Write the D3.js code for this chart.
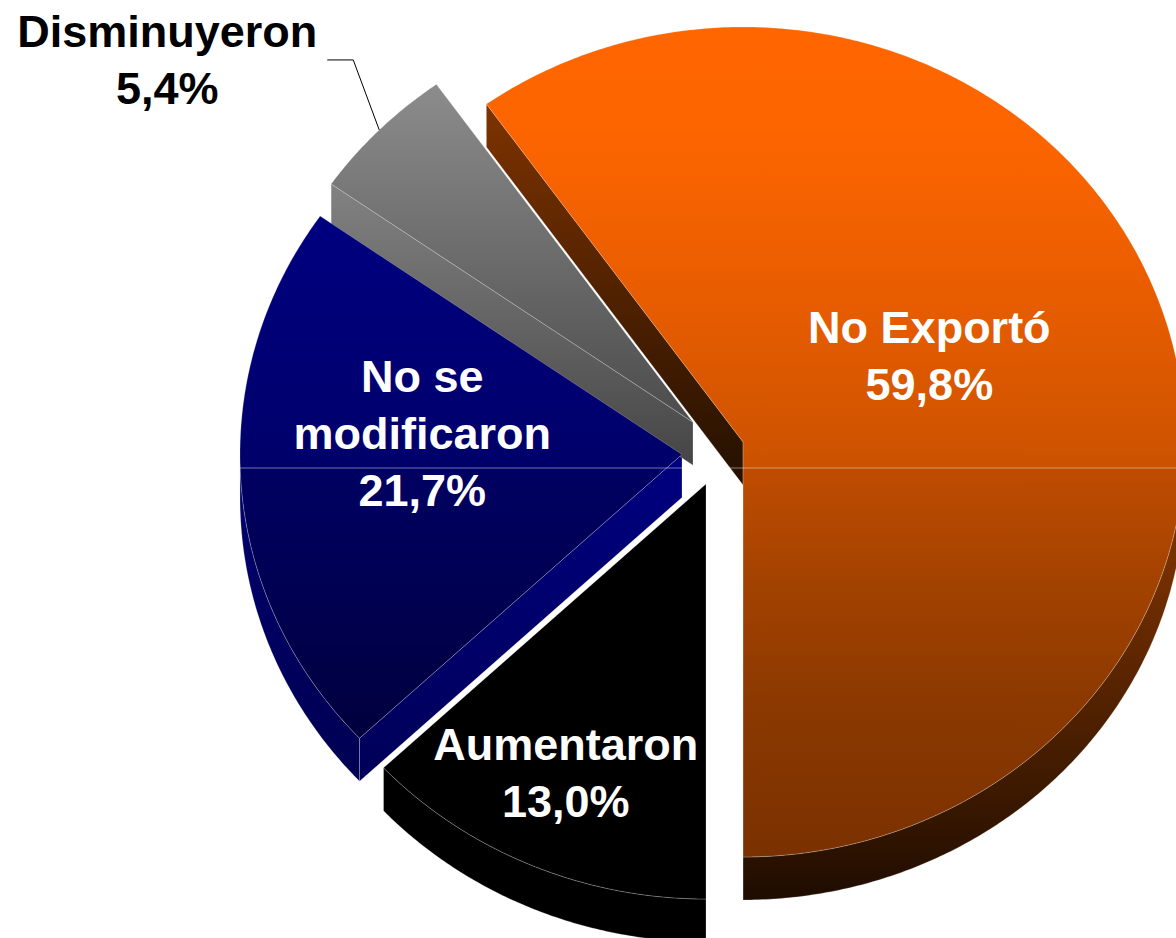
<!DOCTYPE html>
<html>
<head>
<meta charset="utf-8">
<script src="https://cdn.jsdelivr.net/npm/d3@7"></script>
<style>
  html, body { margin: 0; padding: 0; background: #ffffff; overflow: hidden; }
  svg { display: block; }
</style>
</head>
<body>
<svg id="chart" width="1176" height="938"></svg>
<script>
// ---------------- DATA ----------------
const categories = ["No Exportó", "Aumentaron", "No se modificaron", "Disminuyeron"];
const values = [59.8, 13.0, 21.7, 5.4];
const labelLines = [["No Exportó"], ["Aumentaron"], ["No se", "modificaron"], ["Disminuyeron"]];

// ---------------- STYLE / LAYOUT ----------------
const W = 1176, H = 938;
const cx = 718, cy = 451.4;          // pie centre before explosion
const rx = 442, ry = 415;            // projected ellipse radii
const depth = 43;                    // 3D thickness
const explodeYScale = 1.176;
const explode = [26.3, 30.2, 36.1, 35.2];      // per-slice explosion
const labelRadius = [0.47, 0.764, 0.59, null];
const labelShiftDeg = [-8.5, 1.1, 9.0, 0];
const insideLabel = [true, true, true, false];
const labelColor = ["#ffffff", "#ffffff", "#ffffff", "#000000"];
const fontSize = 45, lineH = 57;
const seamY = 468;

const faceStops = [
  [[0, "#FF6600"], [0.148, "#FB6400"], [0.34, "#E65C00"], [0.529, "#CC5200"], [0.532, "#C04C00"], [0.641, "#A84400"], [0.81, "#8C3900"], [1, "#7A3100"]],
  [[0, "#000000"], [1, "#000000"]],
  [[0, "#000080"], [0.485, "#00006A"], [0.488, "#000062"], [1, "#00003E"]],
  [[0, "#8C8C8C"], [1, "#4C4C4C"]]
];
const radialWallStops = [
  [[0, "#7E3300"], [1, "#231000"]],
  [[0, "#000000"], [1, "#000000"]],
  [[0, "#000080"], [1, "#000058"]],
  [[0, "#828282"], [1, "#454545"]]
];
const outerWallStops = [
  [[0, "#803300"], [0.26, "#773000"], [0.78, "#3A1800"], [1, "#1E0C00"]],
  [[0, "#000000"], [1, "#000000"]],
  [[0, "#000070"], [1, "#000052"]],
  [[0, "#777777"], [1, "#444444"]]
];
const edgeStroke = "rgba(255,255,255,0.28)";

// ---------------- BUILD ----------------
const fmt = d3.formatLocale({decimal: ",", thousands: ".", grouping: [3], currency: ["", ""]}).format(".1f");

const svg = d3.select("#chart");
const defs = svg.append("defs");

function makeGrad(id, stops) {
  const g = defs.append("linearGradient").attr("id", id)
    .attr("x1", 0).attr("y1", 0).attr("x2", 0).attr("y2", 1);
  stops.forEach(s => g.append("stop").attr("offset", s[0]).attr("stop-color", s[1]));
  return "url(#" + id + ")";
}

const sum = d3.sum(values);
const a0 = Math.PI - 2 * Math.PI * values[0] / sum;
const pie = d3.pie().sort(null).value(d => d).startAngle(a0).endAngle(a0 + 2 * Math.PI);
const arcs = pie(values);

function pt(apex, a, r = 1, dz = 0) {
  return [apex[0] + rx * r * Math.sin(a), apex[1] - ry * r * Math.cos(a) + dz];
}
function arcPts(apex, s, e, dz = 0) {
  const n = Math.max(2, Math.ceil(Math.abs(e - s) / (Math.PI / 360)));
  return d3.range(n + 1).map(k => pt(apex, s + (e - s) * k / n, 1, dz));
}
const line = d3.line();

const slices = arcs.map((d, i) => {
  const mid = (d.startAngle + d.endAngle) / 2;
  const e = explode[i];
  const apex = [cx + e * Math.sin(mid), cy - e * explodeYScale * Math.cos(mid)];
  return {i, d, mid, apex};
});

const gWalls = svg.append("g");
const gFaces = svg.append("g");
const gSeam = svg.append("g");
const gLabels = svg.append("g");

slices.forEach(sl => {
  const {i, d, apex} = sl;
  const s = d.startAngle, e = d.endAngle;
  const rw = makeGrad("rw" + i, radialWallStops[i]);
  const ow = makeGrad("ow" + i, outerWallStops[i]);
  // outer (curved) wall, only the front half is visible
  for (let k = -1; k <= 1; k++) {
    const lo = Math.max(s, Math.PI / 2 + 2 * Math.PI * k);
    const hi = Math.min(e, 3 * Math.PI / 2 + 2 * Math.PI * k);
    if (hi > lo) {
      const pts = arcPts(apex, lo, hi).concat(arcPts(apex, hi, lo, depth));
      gWalls.append("path").attr("d", line(pts) + "Z")
        .attr("fill", ow).attr("stroke", edgeStroke).attr("stroke-width", 0.8);
    }
  }
  // radial walls
  if (Math.sin(s) < -0.01) {
    const p1 = pt(apex, s), p2 = pt(apex, s, 1, depth);
    const pts = [apex, p1, p2, [apex[0], apex[1] + depth]];
    gWalls.append("path").attr("d", line(pts) + "Z")
      .attr("fill", rw).attr("stroke", edgeStroke).attr("stroke-width", 0.8);
  }
  if (Math.sin(e) > 0.01) {
    const p1 = pt(apex, e), p2 = pt(apex, e, 1, depth);
    const pts = [apex, p1, p2, [apex[0], apex[1] + depth]];
    gWalls.append("path").attr("d", line(pts) + "Z")
      .attr("fill", rw).attr("stroke", edgeStroke).attr("stroke-width", 0.8);
  }
  // top face
  const fpts = [apex].concat(arcPts(apex, s, e));
  gFaces.append("path").attr("d", line(fpts) + "Z")
    .attr("fill", makeGrad("fc" + i, faceStops[i]))
    .attr("stroke", edgeStroke).attr("stroke-width", 0.8);
});

// faint horizontal seam visible across the chart
const leftX = d3.min(slices, sl => sl.apex[0] - rx);
gSeam.append("line")
  .attr("x1", leftX).attr("x2", W).attr("y1", seamY).attr("y2", seamY)
  .attr("stroke", "rgba(255,255,255,0.45)").attr("stroke-width", 1);

// labels
const textStyle = sel => sel
  .attr("font-family", "'Liberation Sans', Arial, Helvetica, sans-serif")
  .attr("font-weight", "bold")
  .attr("font-size", fontSize + "px")
  .attr("text-anchor", "middle");

slices.forEach(sl => {
  const {i, mid, apex} = sl;
  const lines = labelLines[i].concat([fmt(values[i]) + "%"]);
  let ax, ay;
  const t = gLabels.append("text").call(textStyle).attr("fill", labelColor[i]);
  if (insideLabel[i]) {
    const a = mid + labelShiftDeg[i] * Math.PI / 180;
    [ax, ay] = pt(apex, a, labelRadius[i]);
  } else {
    const arcP = pt(apex, mid);
    const elbow = [arcP[0] - 26, arcP[1] - 70];
    const end = [elbow[0] - 26, elbow[1]];
    gLabels.append("path").attr("d", line([arcP, elbow, end]))
      .attr("fill", "none").attr("stroke", "#000").attr("stroke-width", 1);
    // measure width to right-align the block to the leader end
    const tmp = gLabels.append("text").call(textStyle);
    let maxW = 0;
    lines.forEach(L => { tmp.text(L); maxW = Math.max(maxW, tmp.node().getComputedTextLength()); });
    tmp.remove();
    ax = end[0] - 10 - maxW / 2;
    ay = end[1] - 1;
  }
  const firstBase = ay - (lines.length - 1) * lineH / 2 + fontSize * 0.358;
  lines.forEach((L, k) => {
    t.append("tspan").attr("x", ax).attr("y", firstBase + k * lineH).text(L);
  });
});
</script>
</body>
</html>
